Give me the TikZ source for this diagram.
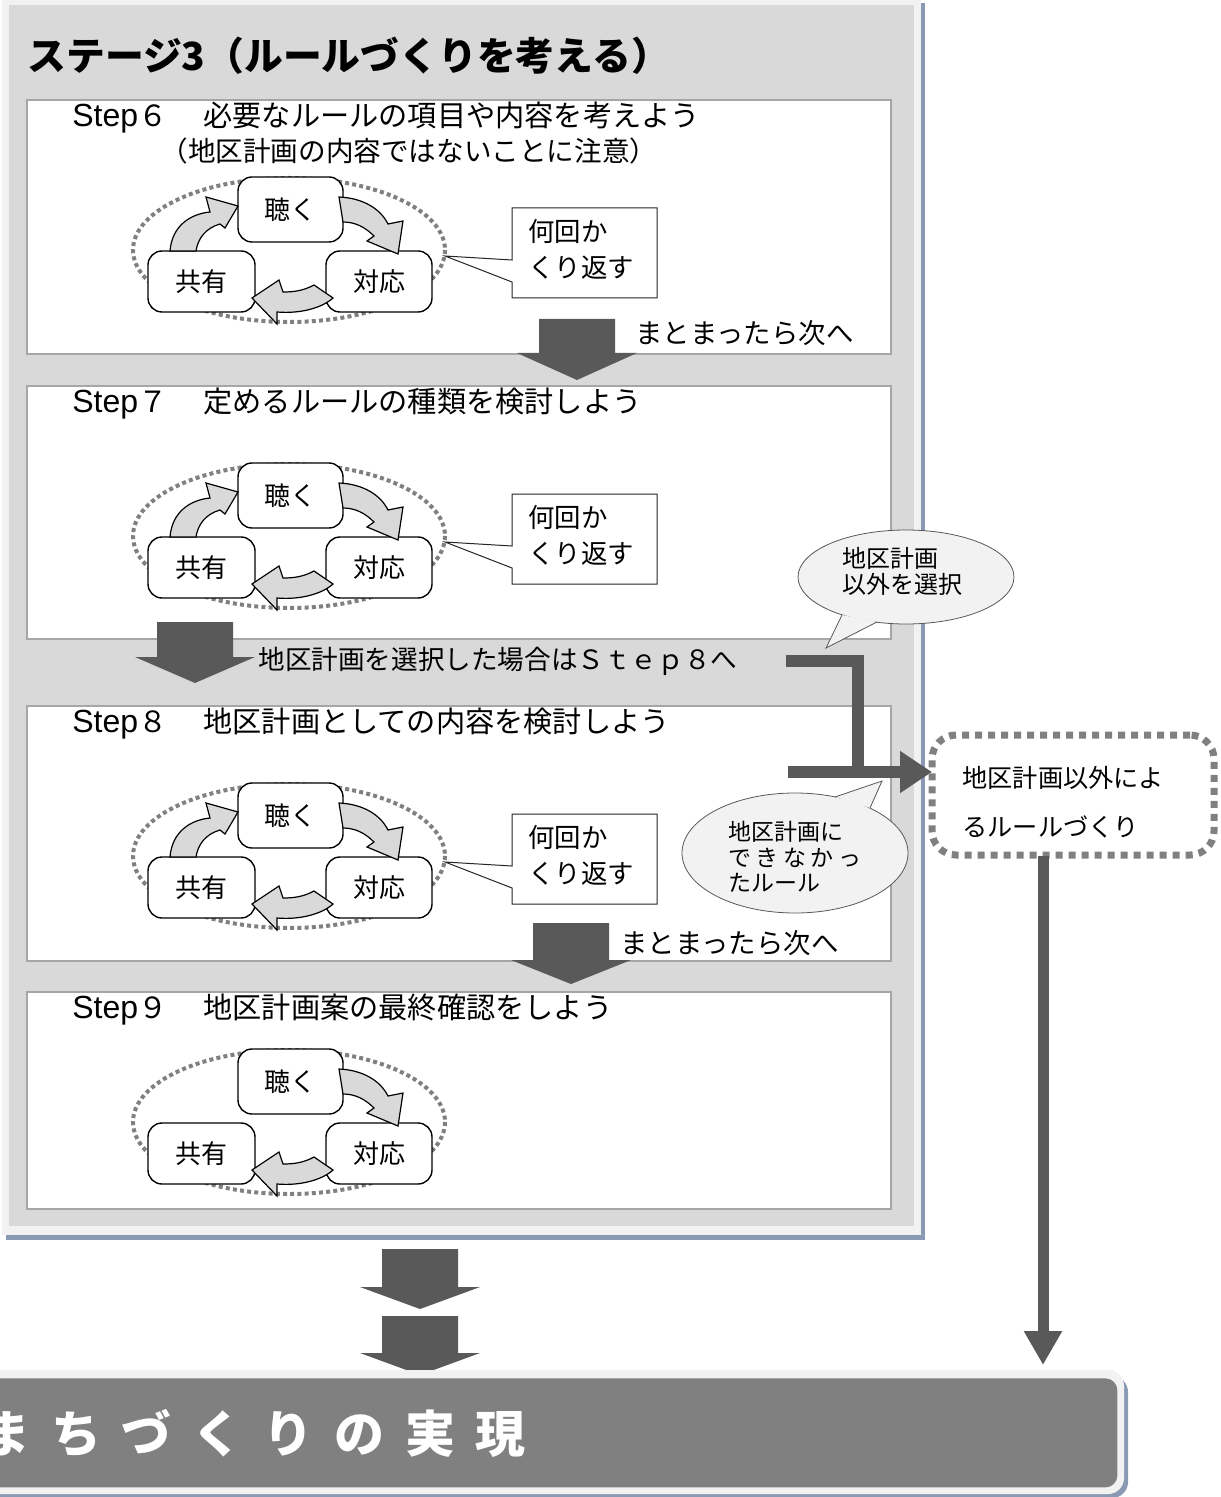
\documentclass[tikz,border=0pt]{standalone}
\usepackage{fontspec}
\newfontfamily\jp{Noto Sans CJK JP}
\newfontfamily\lib{Liberation Sans}
\usetikzlibrary{arrows.meta}
\definecolor{panelgray}{HTML}{D9D9D9}
\definecolor{lightgray}{HTML}{F2F2F2}
\definecolor{shadowblue}{RGB}{138,154,180}
\definecolor{boxborder}{HTML}{A6A6A6}
\definecolor{darkarrow}{HTML}{595959}
\definecolor{dotgray}{HTML}{808080}
\definecolor{goalgray}{HTML}{808080}
\newcommand\FTitle{\jp\bfseries\fontsize{19.4pt}{22pt}\selectfont}
\newcommand\FStep{\jp\fontsize{14.6pt}{17pt}\selectfont}
\newcommand\FSub{\jp\fontsize{13.8pt}{16pt}\selectfont}
\newcommand\FCyc{\jp\fontsize{13pt}{15pt}\selectfont}
\newcommand\FNote{\jp\fontsize{13.2pt}{16pt}\selectfont}
\newcommand\FNext{\jp\fontsize{13.7pt}{16pt}\selectfont}
\newcommand\FSel{\jp\fontsize{13.3pt}{16pt}\selectfont}
\newcommand\FBubA{\jp\fontsize{12pt}{14pt}\selectfont}
\newcommand\FBubB{\jp\fontsize{11.5pt}{14pt}\selectfont}
\newcommand\FRule{\jp\fontsize{12.6pt}{15pt}\selectfont}
\newcommand\FGoal{\jp\bfseries\fontsize{25pt}{30pt}\selectfont}
\newcommand\StepWord[1]{{\lib\fontsize{16pt}{17pt}\selectfont Step}#1\hspace{18pt}}
\tikzset{
  stepbox/.style={draw=boxborder, line width=1.2pt, fill=white, minimum width=432pt, anchor=north west, inner sep=0pt},
  cyclebox/.style={draw=black, line width=0.7pt, fill=white, rounded corners=7pt, inner sep=0pt, font=\FCyc},
  cyclearrow/.style={fill=panelgray, draw=black, line width=0.6pt, line join=miter},
  ringstyle/.style={draw=dotgray, line width=2pt, dash pattern=on 2pt off 1.6pt},
  lbl/.style={inner sep=0pt, anchor=west},
  notebox/.style={fill=white, draw=black!85, line width=0.5pt},
  bubble/.style={fill=lightgray, draw=black!65, line width=0.4pt},
  thickline/.style={draw=darkarrow, line width=6pt, line join=miter},
}
\newcommand\cycdiagram[2]{%
  \draw[ringstyle] (289,250) ellipse [x radius=156, y radius=72];
  \node[cyclebox, minimum width=52.5pt, minimum height=32.5pt] (listen#1) at (290.5,209.5) {聴く};
  \node[cyclebox, minimum width=53.5pt, minimum height=30.5pt] (share#1) at (201.5,281.5) {共有};
  \node[cyclebox, minimum width=53pt, minimum height=30.5pt] (resp#1) at (379,281.5) {対応};
  \ifnum#2=1
  \filldraw[cyclearrow] (170,251) .. controls (172,226) and (190,214) .. (210,212) -- (206,197) -- (238,206) -- (225,228) -- (220,224) .. controls (206,228) and (198,238) .. (196,251) -- cycle;
  \fi
  \filldraw[cyclearrow] (339,197) .. controls (362,198) and (380,208) .. (388,224) -- (403,221) -- (398,254) -- (367,241) -- (374,236) .. controls (365,227) and (355,222) .. (343,222) -- cycle;
  \filldraw[cyclearrow] (314,285) .. controls (303,291) and (293,292) .. (283,292) -- (279,280) -- (252,298) -- (277,324) -- (277,312) .. controls (300,314) and (322,308) .. (333,298) -- cycle;
}
\newcommand\repeatnote[1]{%
  \draw[notebox] (512,208) -- (657,208) -- (657,298) -- (512,298) -- (512,282) -- (445,256) -- (512,260) -- cycle;
  \node[lbl, font=\FNote] (rep#1a) at (528,231) {何回か};
  \node[lbl, font=\FNote] (rep#1b) at (528,268) {くり返す};
}
\newcommand\blockdown[4]{%
  \fill[darkarrow] ({#1-38},#2) -- ({#1+38},#2) -- ({#1+38},#3) -- ({#1+60},#3) -- (#1,#4) -- ({#1-60},#3) -- ({#1-38},#3) -- cycle;
}
\begin{document}
\begin{tikzpicture}[x=0.5pt,y=-0.5pt]
\useasboundingbox (0,0) rectangle (1220,1497);
\clip (0,0) rectangle (1220,1497);
\fill[white] (0,0) rectangle (1220,1497);
% stage panel
\fill[shadowblue] (6,3) rectangle (925,1240);
\fill[lightgray] (2,-5) rectangle (921,1235);
\fill[panelgray] (9,5) rectangle (914,1226);
\node[lbl, font=\FTitle] (title) at (27,56) {ステージ3（ルールづくりを考える）};
% step boxes
\node[stepbox, minimum height=127pt] (box6) at (26,99) {};
\node[stepbox, minimum height=126.5pt] (box7) at (26,385) {};
\node[stepbox, minimum height=127.5pt] (box8) at (26,705) {};
\node[stepbox, minimum height=108.5pt] (box9) at (26,991) {};
\node[lbl, font=\FStep] (s6) at (72,118) {\StepWord{６}必要なルールの項目や内容を考えよう};
\node[lbl, font=\FSub] (s6sub) at (160,151) {（地区計画の内容ではないことに注意）};
\node[lbl, font=\FStep] (s7) at (72,404) {\StepWord{７}定めるルールの種類を検討しよう};
\node[lbl, font=\FStep] (s8) at (72,724) {\StepWord{８}地区計画としての内容を検討しよう};
\node[lbl, font=\FStep] (s9) at (72,1010) {\StepWord{９}地区計画案の最終確認をしよう};
% cycles
\cycdiagram{6}{1}
\repeatnote{6}
\begin{scope}[shift={(0,286)}]
\cycdiagram{7}{1}
\repeatnote{7}
\end{scope}
\begin{scope}[shift={(0,606)}]
\cycdiagram{8}{1}
\repeatnote{8}
\end{scope}
\begin{scope}[shift={(0,872)}]
\cycdiagram{9}{0}
\end{scope}
% block arrows
\blockdown{577}{319}{353}{380}
\blockdown{195}{622}{657}{683}
\blockdown{571}{923}{960}{984}
\blockdown{420}{1249}{1287}{1309}
\blockdown{420}{1316}{1353}{1375}
\node[lbl, font=\FNext] (next6) at (635,333) {まとまったら次へ};
\node[lbl, font=\FNext] (next8) at (620,943) {まとまったら次へ};
\node[lbl, font=\FSel] (sel) at (258,661) {地区計画を選択した場合はＳｔｅｐ８へ};
% right side connectors
\coordinate (selEnd) at (786,661);
\coordinate (bend) at (858,661);
\coordinate (joinPt) at (858,778);
\coordinate (failStart) at (788,772);
\coordinate (ruleIn) at (932,772);
\draw[thickline] (selEnd) -- (bend) -- (joinPt);
\draw[thickline, -{Triangle[length=16pt,width=20pt]}] (failStart) -- (ruleIn);
% rule box
\node[draw=dotgray, line width=3.5pt, dash pattern=on 3.5pt off 3pt, rounded corners=12pt, fill=white, minimum width=141pt, minimum height=60pt, inner sep=0pt] (rulebox) at (1073,795) {};
\node[lbl, font=\FRule] (rule1) at (962,778) {地区計画以外によ};
\node[lbl, font=\FRule] (rule2) at (962,827) {るルールづくり};
\coordinate (ruleOut) at (1043,856);
\coordinate (goalIn) at (1043,1365);
\draw[darkarrow, line width=5.5pt, -{Triangle[length=17pt,width=18pt]}] (ruleOut) -- (goalIn);
% bubble 1
\filldraw[bubble] (906,577) ellipse [x radius=108, y radius=47];
\fill[lightgray] (842,615) -- (826,648) -- (877,622) -- cycle;
\draw[black!65, line width=0.4pt] (842,615) -- (826,648) -- (877,622);
\node[lbl, font=\FBubA] (bubA1) at (842,558) {地区計画};
\node[lbl, font=\FBubA] (bubA2) at (842,584) {以外を選択};
% bubble 2
\filldraw[bubble] (795,853) ellipse [x radius=113, y radius=60];
\fill[lightgray] (835,797) -- (882,781) -- (870,808) -- cycle;
\draw[black!65, line width=0.4pt] (835,797) -- (882,781) -- (870,808);
\node[lbl, font=\FBubB] (bubB1) at (728,832) {地区計画に};
\node[lbl, font=\FBubB] (bubB2) at (728,858) {で\hspace{2.2pt}き\hspace{2.2pt}な\hspace{2.2pt}か\hspace{2.2pt}っ};
\node[lbl, font=\FBubB] (bubB3) at (728,883) {たルール};
% goal box
\fill[shadowblue, rounded corners=8pt] (-30,1376) rectangle (1128,1498);
\fill[lightgray, rounded corners=8pt] (-30,1370) rectangle (1124,1494);
\node[fill=goalgray, rounded corners=6pt, minimum width=573.5pt, minimum height=54.5pt, anchor=north west, inner sep=0pt] (goalbox) at (-30,1378) {};
\node[lbl, text=white, font=\FGoal] (goal) at (-20,1433) {ま\hspace{10.4pt}ち\hspace{10.4pt}づ\hspace{10.4pt}く\hspace{10.4pt}り\hspace{10.4pt}の\hspace{10.4pt}実\hspace{10.4pt}現};
\end{tikzpicture}
\end{document}
